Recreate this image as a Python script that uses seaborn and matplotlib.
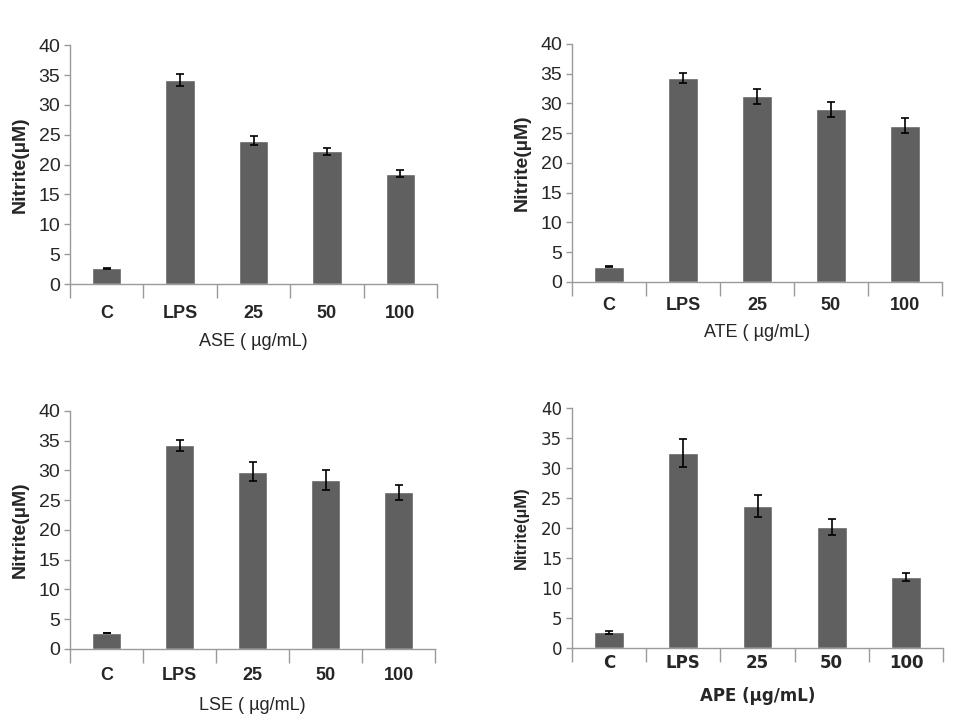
import pandas as pd
import matplotlib.pyplot as plt
import seaborn as sns
from matplotlib.ticker import FixedLocator

categories = ['C', 'LPS', '25', '50', '100']

ase_mean = [2.6, 34.2, 24.0, 22.2, 18.5]
ase_err = [0.15, 1.0, 0.8, 0.6, 0.6]

ate_mean = [2.6, 34.3, 31.2, 29.0, 26.3]
ate_err = [0.1, 0.9, 1.3, 1.2, 1.3]

lse_mean = [2.7, 34.2, 29.8, 28.4, 26.3]
lse_err = [0.05, 1.0, 1.6, 1.7, 1.3]

ape_mean = [2.6, 32.5, 23.7, 20.2, 11.8]
ape_err = [0.3, 2.3, 1.8, 1.3, 0.7]

y_ticks = [0, 5, 10, 15, 20, 25, 30, 35, 40]

sns.set_style('white')

fig = plt.figure(figsize=(9.62, 7.26), dpi=100)

panels = [
    # mean, err, xlabel, rect, font, tick pad, xlabel pad
    (ase_mean, ase_err, 'ASE ( µg/mL)', [0.0728, 0.6088, 0.3815, 0.329], 'Liberation Sans', 15, 8),
    (ate_mean, ate_err, 'ATE ( µg/mL)', [0.5946, 0.6116, 0.3846, 0.3278], 'Liberation Sans', 11, 7),
    (lse_mean, lse_err, 'LSE ( µg/mL)', [0.0728, 0.1061, 0.3794, 0.3278], 'Liberation Sans', 13, 9),
    (ape_mean, ape_err, 'APE (µg/mL)', [0.5946, 0.1074, 0.3857, 0.3306], 'DejaVu Sans', 4, 11),
]

for mean, err, xlabel, rect, font, tpad, lpad in panels:
    arial = font == 'Liberation Sans'
    ax = fig.add_axes(rect)
    df = pd.DataFrame({'group': categories, 'nitrite': mean})
    sns.barplot(data=df, x='group', y='nitrite', color='#606060',
                saturation=1, width=0.4, errorbar=None, ax=ax)
    ax.errorbar(range(len(categories)), mean, yerr=err, fmt='none',
                ecolor='black', elinewidth=1.2, capsize=3, capthick=1.2)
    ax.set_ylim(0, 40)
    ax.set_xlim(-0.5, len(categories) - 0.5)
    ax.set_yticks(y_ticks)
    ax.spines[['top', 'right']].set_visible(False)
    for s in ['left', 'bottom']:
        ax.spines[s].set_color('#9a9a9a')
        ax.spines[s].set_linewidth(1.0)
    # boundary ticks between categories
    ax.xaxis.set_minor_locator(FixedLocator([i - 0.5 for i in range(len(categories) + 1)]))
    ax.tick_params(axis='x', which='minor', bottom=True, length=10,
                   color='#9a9a9a', width=1.0, direction='out')
    ax.tick_params(axis='x', which='major', length=0, pad=tpad)
    ax.tick_params(axis='y', left=True, length=4, color='#9a9a9a',
                   width=1.0, direction='out', pad=3)
    for lab in ax.get_xticklabels():
        lab.set_fontfamily(font)
        lab.set_fontweight('bold')
        lab.set_fontsize(13 if arial else 12)
    for lab in ax.get_yticklabels():
        lab.set_fontfamily(font)
        lab.set_fontsize(14 if arial else 12)
    ax.set_xlabel(xlabel, fontsize=13 if arial else 12,
                  fontfamily=font, fontweight='normal' if arial else 'bold',
                  labelpad=lpad)
    ax.set_ylabel('Nitrite(µM)', fontsize=14 if arial else 12,
                  fontfamily='Liberation Sans', fontweight='bold',
                  labelpad=7 if arial else 9)

plt.savefig('out.png', dpi=100)
plt.close()
